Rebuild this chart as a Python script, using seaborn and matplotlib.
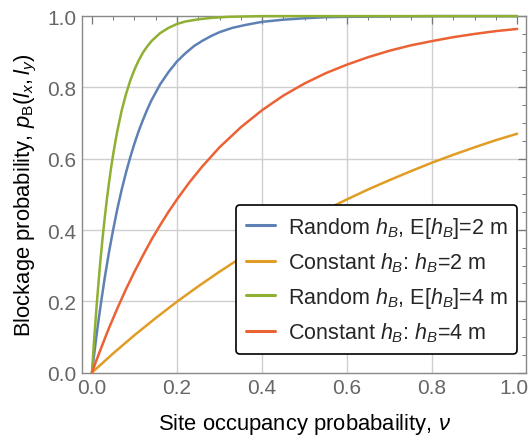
import numpy as np
import pandas as pd
import matplotlib
matplotlib.use("Agg")
import matplotlib.pyplot as plt
import matplotlib.transforms as mtrans
import seaborn as sns

# Blockage probability vs site occupancy probability
nu_random_2m = [0.0, 0.005, 0.01, 0.015, 0.02, 0.03, 0.04, 0.05, 0.06, 0.07, 0.08, 0.09,
                0.10, 0.11, 0.12, 0.13, 0.14, 0.16, 0.18, 0.20, 0.22, 0.24, 0.26, 0.28,
                0.30, 0.33, 0.36, 0.40, 0.45, 0.50, 0.55, 0.60, 0.70, 0.80, 0.90, 1.00]
pb_random_2m = [0.0, 0.050, 0.098, 0.143, 0.186, 0.266, 0.338, 0.402, 0.461, 0.514, 0.561,
                0.604, 0.643, 0.678, 0.709, 0.738, 0.764, 0.808, 0.843, 0.873, 0.896,
                0.916, 0.931, 0.944, 0.955, 0.967, 0.975, 0.984, 0.990, 0.994, 0.997,
                0.998, 0.999, 1.0, 1.0, 1.0]

nu_constant_2m = [0.0, 0.05, 0.10, 0.15, 0.20, 0.25, 0.30, 0.35, 0.40, 0.45, 0.50, 0.55,
                  0.60, 0.65, 0.70, 0.75, 0.80, 0.85, 0.90, 0.95, 1.00]
pb_constant_2m = [0.0, 0.054, 0.105, 0.153, 0.199, 0.242, 0.283, 0.322, 0.359, 0.393, 0.426,
                  0.457, 0.486, 0.514, 0.540, 0.565, 0.589, 0.611, 0.632, 0.652, 0.670]

nu_random_4m = [0.0, 0.005, 0.01, 0.015, 0.02, 0.025, 0.03, 0.035, 0.04, 0.045, 0.05, 0.055,
                0.06, 0.07, 0.08, 0.09, 0.10, 0.11, 0.12, 0.13, 0.14, 0.16, 0.18, 0.20,
                0.22, 0.25, 0.28, 0.32, 0.36, 0.40, 0.50, 0.60, 0.70, 0.80, 0.90, 1.00]
pb_random_4m = [0.0, 0.091, 0.173, 0.248, 0.316, 0.378, 0.434, 0.486, 0.532, 0.575, 0.613,
                0.648, 0.680, 0.736, 0.781, 0.819, 0.850, 0.876, 0.898, 0.915, 0.930,
                0.952, 0.967, 0.978, 0.985, 0.991, 0.995, 0.998, 0.999, 1.0, 1.0, 1.0,
                1.0, 1.0, 1.0, 1.0]

nu_constant_4m = [0.0, 0.01, 0.02, 0.03, 0.04, 0.05, 0.06, 0.08, 0.10, 0.12, 0.14, 0.16,
                  0.18, 0.20, 0.23, 0.26, 0.30, 0.35, 0.40, 0.45, 0.50, 0.55, 0.60, 0.65,
                  0.70, 0.75, 0.80, 0.85, 0.90, 0.95, 1.00]
pb_constant_4m = [0.0, 0.033, 0.064, 0.095, 0.125, 0.153, 0.181, 0.234, 0.283, 0.329, 0.373,
                  0.413, 0.451, 0.486, 0.535, 0.579, 0.632, 0.688, 0.736, 0.777, 0.811,
                  0.840, 0.864, 0.885, 0.903, 0.918, 0.930, 0.941, 0.950, 0.958, 0.964]

labels = [r"Random $h_B$, E[$h_B$]=2 m",
          r"Constant $h_B$: $h_B$=2 m",
          r"Random $h_B$, E[$h_B$]=4 m",
          r"Constant $h_B$: $h_B$=4 m"]
colors = ["#5E81B5", "#E19C24", "#8FB032", "#EB6235"]
tick_values = [0.0, 0.2, 0.4, 0.6, 0.8, 1.0]
tick_labels = ["0.0", "0.2", "0.4", "0.6", "0.8", "1.0"]

xs = [nu_random_2m, nu_constant_2m, nu_random_4m, nu_constant_4m]
ys = [pb_random_2m, pb_constant_2m, pb_random_4m, pb_constant_4m]
df = pd.concat([pd.DataFrame({"nu": x, "pB": y, "series": lab})
                for x, y, lab in zip(xs, ys, labels)], ignore_index=True)

sns.set_theme(style="white")
plt.rcParams["font.family"] = ["Liberation Sans", "DejaVu Sans"]
plt.rcParams["mathtext.fontset"] = "custom"
plt.rcParams["mathtext.rm"] = "Liberation Sans"
plt.rcParams["mathtext.it"] = "Liberation Sans:italic"
plt.rcParams["mathtext.bf"] = "Liberation Sans:bold"

fig = plt.figure(figsize=(5.30, 4.39), dpi=100)
ax = fig.add_axes([0.1547, 0.149, 0.8378, 0.812])

sns.lineplot(data=df, x="nu", y="pB", hue="series", hue_order=labels,
             palette=colors, sort=False, linewidth=1.8, ax=ax, legend=False,
             clip_on=False, zorder=3)

ax.set_xlim(-0.0235, 1.021)
ax.set_ylim(0, 1)

for v in tick_values[1:-1]:
    ax.axvline(v, color="#cfcfcf", lw=1.0, zorder=0)
    ax.axhline(v, color="#cfcfcf", lw=1.0, zorder=0)

ax.set_xticks(tick_values)
ax.set_yticks(tick_values)
ax.set_xticklabels(tick_labels)
ax.set_yticklabels(tick_labels)
ax.set_xticks(np.arange(0, 1.0001, 0.05), minor=True)
ax.set_yticks(np.arange(0, 1.0001, 0.05), minor=True)
ax.tick_params(which="both", direction="in", top=True, right=True,
               color="#777777", labelcolor="#666666")
ax.tick_params(which="major", length=5.5, width=0.9, labelsize=15, pad=4)
ax.tick_params(which="minor", length=3, width=0.7)
for sp in ax.spines.values():
    sp.set_color("#888888")
    sp.set_linewidth(1.0)

# keep the last x tick label inside the figure
last = ax.get_xticklabels()[-1]
last.set_transform(last.get_transform() +
                   mtrans.ScaledTranslation(-3 / 100, 0, fig.dpi_scale_trans))

ax.set_xlabel(r"Site occupancy probabaility, $\nu$", fontsize=15.8, color="black", labelpad=10)
ax.set_ylabel(r"Blockage probability, $p_\mathrm{B}(l_x,l_y)$", fontsize=15.8,
              color="black", labelpad=6)

handles = [plt.Line2D([0], [0], color=c, lw=2.2) for c in colors]
leg = ax.legend(handles, labels, loc="lower right", bbox_to_anchor=(0.98, 0.052),
                borderaxespad=0, fontsize=15.5, frameon=True, fancybox=True,
                handlelength=1.35, handletextpad=0.6, labelspacing=0.5,
                borderpad=0.45, framealpha=1)
leg.get_frame().set_edgecolor("black")
leg.get_frame().set_linewidth(1.2)

fig.savefig("out.png", dpi=100)
